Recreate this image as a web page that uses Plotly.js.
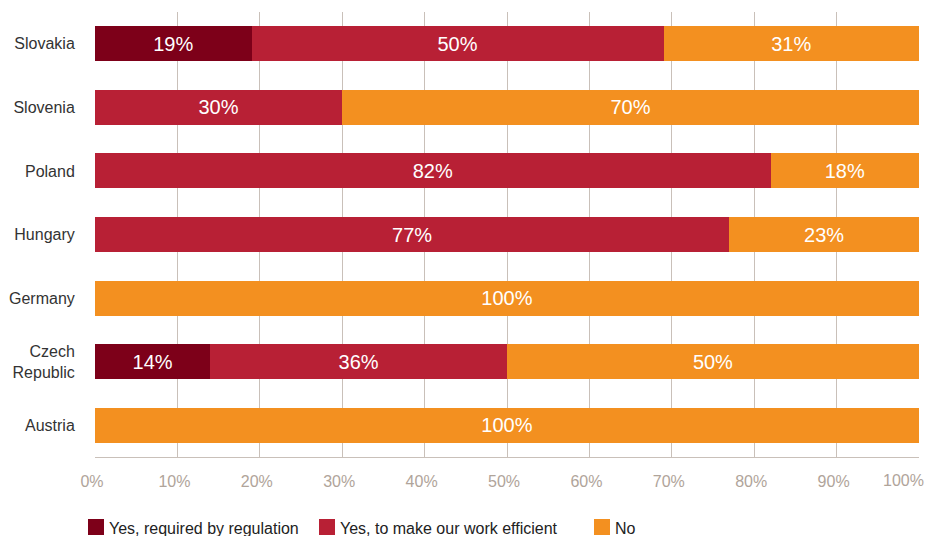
<!DOCTYPE html>
<html>
<head>
<meta charset="utf-8">
<script src="https://cdn.plot.ly/plotly-3.0.1.min.js"></script>
<style>html,body{margin:0;padding:0;background:#fff;}#chart{width:936px;height:536px;}</style>
</head>
<body>
<div id="chart"></div>
<script>
const categories = ["Slovakia", "Slovenia", "Poland", "Hungary", "Germany", "Czech<br>Republic", "Austria"];
const regulation = [19, null, null, null, null, 14, null];
const efficient = [50, 30, 82, 77, null, 36, null];
const no = [31, 70, 18, 23, 100, 50, 100];
const seriesNames = ["Yes, required by regulation", "Yes, to make our work efficient", "No"];
const tickVals = [0, 10, 20, 30, 40, 50, 60, 70, 80, 90, 100];
const tickText = ["0%", "10%", "20%", "30%", "40%", "50%", "60%", "70%", "80%", "90%", "100%"];

const colors = ["#7d0019", "#b82035", "#f39020"];
const font = "Liberation Sans, Arial, Helvetica, sans-serif";

const W = 936, H = 536;
const M = {l: 95, r: 17, t: 12, b: 79};
const plotW = W - M.l - M.r, plotH = H - M.t - M.b;

const series = [regulation, efficient, no];
const traces = series.map((vals, i) => ({
  type: "bar",
  orientation: "h",
  name: seriesNames[i],
  y: categories,
  x: vals,
  marker: {color: colors[i], line: {width: 0}},
  width: 0.55,
  text: vals.map(v => v == null ? "" : v + "%"),
  texttemplate: "%{text}",
  textposition: "inside",
  insidetextanchor: "middle",
  textfont: {color: "#ffffff", size: 20, family: font},
  hoverinfo: "skip",
  showlegend: false
}));

// custom legend (pixel layout converted to paper coords)
const legendPx = [88, 319, 594];
const legendY = 527, sq = 16;
const px2x = p => (p - M.l) / plotW;
const py2y = p => (H - M.b - p) / plotH;
const shapes = [], annotations = [];
seriesNames.forEach((n, i) => {
  shapes.push({
    type: "rect", xref: "paper", yref: "paper",
    x0: px2x(legendPx[i]), x1: px2x(legendPx[i] + sq),
    y0: py2y(legendY + sq / 2), y1: py2y(legendY - sq / 2),
    fillcolor: colors[i], line: {width: 0}
  });
  annotations.push({
    xref: "paper", yref: "paper",
    x: px2x(legendPx[i] + sq + 3), y: py2y(legendY + 1),
    xanchor: "left", yanchor: "middle",
    text: n, showarrow: false,
    font: {size: 16, color: "#222222", family: font}
  });
});

// last tick label is right-aligned so it stays inside the page
const lastIdx = tickVals.length - 1;
const shownTickText = tickText.map((t, i) => i === lastIdx ? "" : t);
annotations.push({
  xref: "x", yref: "paper",
  x: tickVals[lastIdx], y: 0,
  xshift: 7, yshift: -23,
  xanchor: "right", yanchor: "middle",
  text: tickText[lastIdx], showarrow: false,
  font: {size: 16, color: "#b0a49a", family: font}
});

const layout = {
  width: W,
  height: H,
  barmode: "stack",
  margin: Object.assign({autoexpand: false}, M),
  paper_bgcolor: "#ffffff",
  plot_bgcolor: "#ffffff",
  font: {family: font, color: "#333333", size: 16},
  xaxis: {
    range: [0, 100],
    tickvals: tickVals,
    ticktext: shownTickText,
    showgrid: true,
    gridcolor: "#c9c0b9",
    gridwidth: 1,
    zeroline: false,
    showline: true,
    linecolor: "#c9c0b9",
    linewidth: 1,
    ticks: "",
    ticklabelstandoff: 10,
    ticklabelshift: -3,
    tickfont: {color: "#b0a49a", size: 16, family: font},
    fixedrange: true
  },
  yaxis: {
    autorange: "reversed",
    showgrid: false,
    zeroline: false,
    showline: false,
    ticks: "outside",
    ticklen: 16,
    tickcolor: "rgba(0,0,0,0)",
    tickfont: {color: "#333333", size: 16, family: font},
    fixedrange: true
  },
  showlegend: false,
  shapes: shapes,
  annotations: annotations
};

Plotly.newPlot("chart", traces, layout, {displayModeBar: false, staticPlot: true});
</script>
</body>
</html>
